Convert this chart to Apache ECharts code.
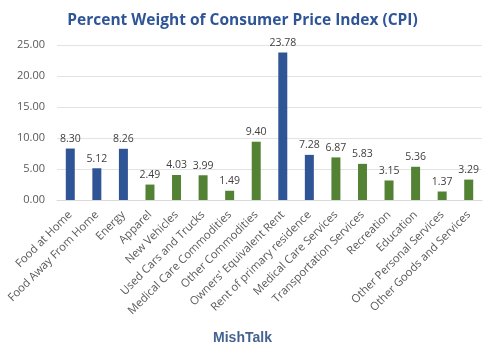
<!DOCTYPE html>
<html>
<head>
<meta charset="utf-8">
<script src="https://cdn.jsdelivr.net/npm/echarts@6/dist/echarts.min.js"></script>
<style>
  html, body { margin: 0; padding: 0; background: #fff; }
  #chart { width: 485px; height: 351px; }
</style>
</head>
<body>
<div id="chart"></div>
<script>
// CPI weight categories and values
const categories = [
  'Food at Home', 'Food Away From Home', 'Energy', 'Apparel', 'New Vehicles',
  'Used Cars and Trucks', 'Medical Care Commodities', 'Other Commodities',
  "Owners' Equivalent Rent", 'Rent of primary residence', 'Medical Care Services',
  'Transportation Services', 'Recreation', 'Education', 'Other Personal Services',
  'Other Goods and Services'
];
const weights = [8.30, 5.12, 8.26, 2.49, 4.03, 3.99, 1.49, 9.40, 23.78, 7.28, 6.87, 5.83, 3.15, 5.36, 1.37, 3.29];
// which bars are blue (food / energy / shelter)
const blueBars = [true, true, true, false, false, false, false, false, true, true, false, false, false, false, false, false];
const yTicks = [0, 5, 10, 15, 20, 25];

const BLUE = '#2f5597';
const GREEN = '#548235';

function renderChart() {
  const el = document.getElementById('chart');
  const chart = echarts.init(el);
  chart.setOption({
    animation: false,
    title: [
      {
        text: 'Percent Weight of Consumer Price Index (CPI)',
        left: 'center', top: 8,
        textStyle: { fontFamily: 'Open Sans', fontSize: 15.5, fontWeight: 'bold', color: '#2f5597' }
      },
      {
        text: 'MishTalk',
        left: 'center', top: 326,
        textStyle: { fontFamily: 'Liberation Sans', fontSize: 14, fontWeight: 'bold', color: '#44628f' }
      }
    ],
    grid: { left: 57, right: 3, top: 45, bottom: 151 },
    xAxis: {
      type: 'category',
      data: categories,
      axisLine: { lineStyle: { color: '#d9d9d9' } },
      axisTick: { show: false },
      axisLabel: {
        interval: 0, rotate: 45, margin: 13,
        fontFamily: 'Open Sans', fontSize: 11.3, color: '#595959'
      }
    },
    yAxis: {
      type: 'value',
      min: yTicks[0], max: yTicks[yTicks.length - 1], interval: 5,
      axisLine: { show: false },
      axisTick: { show: false },
      splitLine: { lineStyle: { color: '#e3e3e3' } },
      axisLabel: {
        margin: 12, fontFamily: 'Open Sans', fontSize: 11, color: '#595959',
        formatter: v => v.toFixed(2)
      }
    },
    series: [{
      type: 'bar',
      barWidth: 9,
      data: weights.map((v, i) => ({
        value: v,
        itemStyle: { color: blueBars[i] ? BLUE : GREEN }
      })),
      label: {
        show: true, position: 'top', distance: 4,
        fontFamily: 'Open Sans', fontSize: 10.5, color: '#404040',
        formatter: p => p.value.toFixed(2)
      }
    }]
  });
}

window.addEventListener('DOMContentLoaded', renderChart);
</script>
</body>
</html>
